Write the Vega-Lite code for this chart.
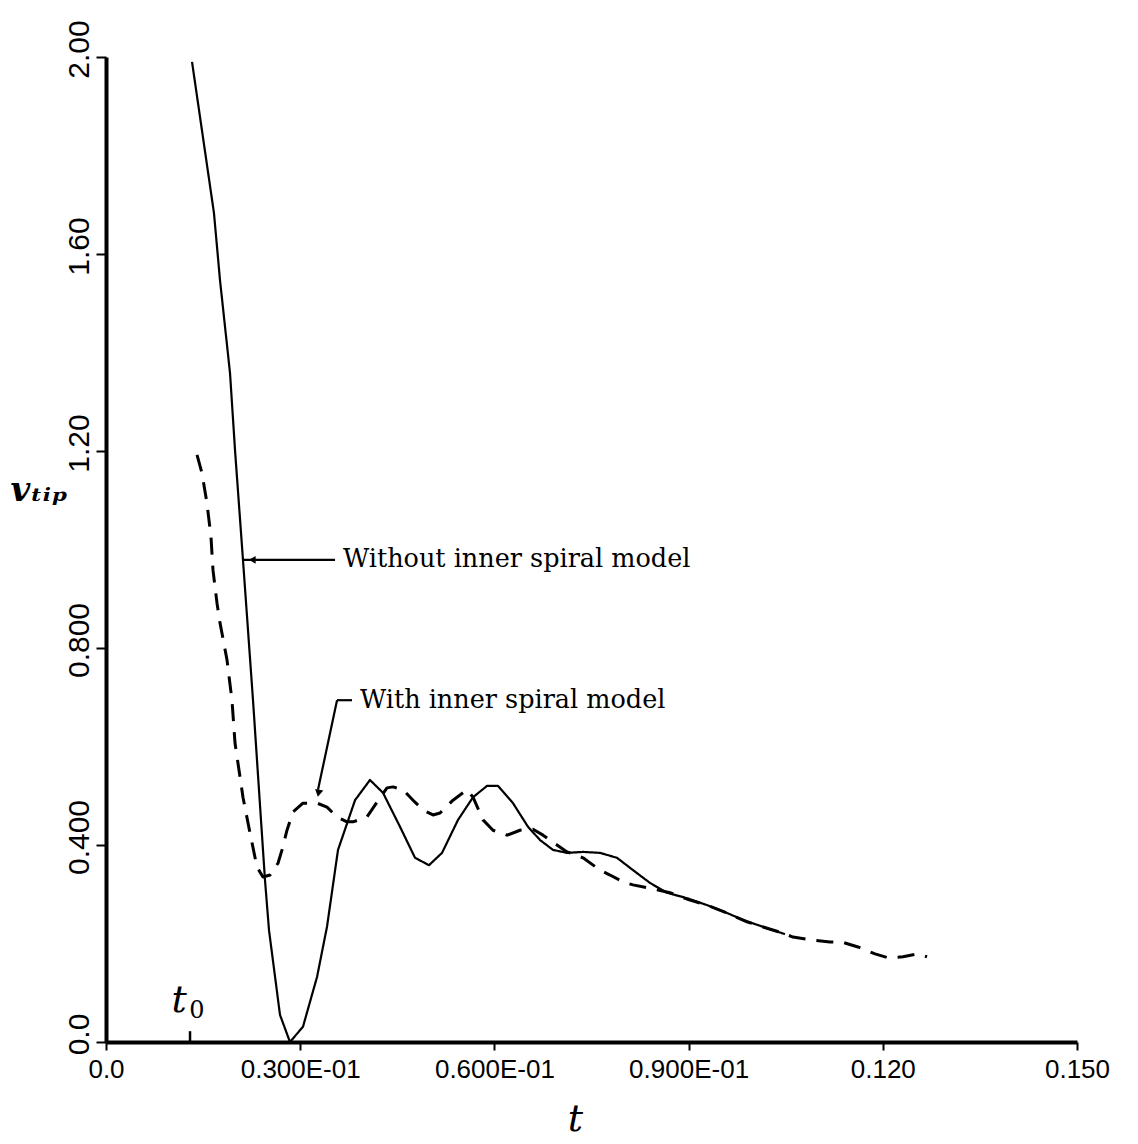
{
  "$schema": "https://vega.github.io/schema/vega-lite/v6.json",
  "width": 971,
  "height": 985,
  "autosize": "none",
  "padding": {"left": 106, "top": 57, "right": 61, "bottom": 102},
  "background": "white",
  "config": {
    "view": {"stroke": null},
    "axis": {"grid": false, "domainColor": "black", "tickColor": "black", "labelColor": "black", "titleColor": "black"}
  },
  "datasets": {
    "curves": [
      {"series": "without", "t": 0.01329, "v": 1.990},
      {"series": "without", "t": 0.01668, "v": 1.683},
      {"series": "without", "t": 0.01761, "v": 1.547},
      {"series": "without", "t": 0.01916, "v": 1.358},
      {"series": "without", "t": 0.01993, "v": 1.202},
      {"series": "without", "t": 0.02116, "v": 0.979},
      {"series": "without", "t": 0.02271, "v": 0.694},
      {"series": "without", "t": 0.02456, "v": 0.329},
      {"series": "without", "t": 0.02518, "v": 0.227},
      {"series": "without", "t": 0.02688, "v": 0.055},
      {"series": "without", "t": 0.02842, "v": 0.0},
      {"series": "without", "t": 0.03043, "v": 0.031},
      {"series": "without", "t": 0.03260, "v": 0.132},
      {"series": "without", "t": 0.03414, "v": 0.234},
      {"series": "without", "t": 0.03584, "v": 0.390},
      {"series": "without", "t": 0.03847, "v": 0.491},
      {"series": "without", "t": 0.04078, "v": 0.532},
      {"series": "without", "t": 0.04279, "v": 0.506},
      {"series": "without", "t": 0.04542, "v": 0.437},
      {"series": "without", "t": 0.04774, "v": 0.374},
      {"series": "without", "t": 0.04990, "v": 0.359},
      {"series": "without", "t": 0.05191, "v": 0.384},
      {"series": "without", "t": 0.05438, "v": 0.451},
      {"series": "without", "t": 0.05670, "v": 0.497},
      {"series": "without", "t": 0.05886, "v": 0.520},
      {"series": "without", "t": 0.06056, "v": 0.520},
      {"series": "without", "t": 0.06287, "v": 0.485},
      {"series": "without", "t": 0.06519, "v": 0.437},
      {"series": "without", "t": 0.06705, "v": 0.410},
      {"series": "without", "t": 0.06906, "v": 0.390},
      {"series": "without", "t": 0.07122, "v": 0.384},
      {"series": "without", "t": 0.07369, "v": 0.386},
      {"series": "without", "t": 0.07632, "v": 0.384},
      {"series": "without", "t": 0.07894, "v": 0.374},
      {"series": "without", "t": 0.08141, "v": 0.349},
      {"series": "without", "t": 0.08404, "v": 0.323},
      {"series": "without", "t": 0.08667, "v": 0.303},
      {"series": "without", "t": 0.08975, "v": 0.292},
      {"series": "without", "t": 0.09284, "v": 0.278},
      {"series": "without", "t": 0.09593, "v": 0.262},
      {"series": "without", "t": 0.09840, "v": 0.248},
      {"series": "without", "t": 0.10211, "v": 0.231},
      {"series": "without", "t": 0.10489, "v": 0.219},
      {"series": "with", "t": 0.01406, "v": 1.192},
      {"series": "with", "t": 0.01483, "v": 1.155},
      {"series": "with", "t": 0.01560, "v": 1.094},
      {"series": "with", "t": 0.01622, "v": 1.025},
      {"series": "with", "t": 0.01653, "v": 0.958},
      {"series": "with", "t": 0.01715, "v": 0.891},
      {"series": "with", "t": 0.01761, "v": 0.851},
      {"series": "with", "t": 0.01869, "v": 0.776},
      {"series": "with", "t": 0.01946, "v": 0.694},
      {"series": "with", "t": 0.01993, "v": 0.607},
      {"series": "with", "t": 0.02039, "v": 0.566},
      {"series": "with", "t": 0.02116, "v": 0.497},
      {"series": "with", "t": 0.02225, "v": 0.424},
      {"series": "with", "t": 0.02333, "v": 0.355},
      {"series": "with", "t": 0.02425, "v": 0.335},
      {"series": "with", "t": 0.02533, "v": 0.339},
      {"series": "with", "t": 0.02657, "v": 0.363},
      {"series": "with", "t": 0.02719, "v": 0.390},
      {"series": "with", "t": 0.02796, "v": 0.430},
      {"series": "with", "t": 0.02889, "v": 0.467},
      {"series": "with", "t": 0.03043, "v": 0.485},
      {"series": "with", "t": 0.03260, "v": 0.485},
      {"series": "with", "t": 0.03414, "v": 0.477},
      {"series": "with", "t": 0.03569, "v": 0.457},
      {"series": "with", "t": 0.03723, "v": 0.447},
      {"series": "with", "t": 0.03816, "v": 0.447},
      {"series": "with", "t": 0.04032, "v": 0.457},
      {"series": "with", "t": 0.04186, "v": 0.487},
      {"series": "with", "t": 0.04341, "v": 0.516},
      {"series": "with", "t": 0.04434, "v": 0.518},
      {"series": "with", "t": 0.04588, "v": 0.512},
      {"series": "with", "t": 0.04743, "v": 0.491},
      {"series": "with", "t": 0.04897, "v": 0.471},
      {"series": "with", "t": 0.05052, "v": 0.461},
      {"series": "with", "t": 0.05160, "v": 0.465},
      {"series": "with", "t": 0.05361, "v": 0.491},
      {"series": "with", "t": 0.05577, "v": 0.512},
      {"series": "with", "t": 0.05670, "v": 0.497},
      {"series": "with", "t": 0.05824, "v": 0.451},
      {"series": "with", "t": 0.05978, "v": 0.430},
      {"series": "with", "t": 0.06195, "v": 0.420},
      {"series": "with", "t": 0.06396, "v": 0.430},
      {"series": "with", "t": 0.06596, "v": 0.432},
      {"series": "with", "t": 0.06751, "v": 0.420},
      {"series": "with", "t": 0.06967, "v": 0.400},
      {"series": "with", "t": 0.07122, "v": 0.386},
      {"series": "with", "t": 0.07369, "v": 0.374},
      {"series": "with", "t": 0.07632, "v": 0.349},
      {"series": "with", "t": 0.07786, "v": 0.339},
      {"series": "with", "t": 0.07987, "v": 0.325},
      {"series": "with", "t": 0.08141, "v": 0.319},
      {"series": "with", "t": 0.08512, "v": 0.309},
      {"series": "with", "t": 0.08713, "v": 0.303},
      {"series": "with", "t": 0.09022, "v": 0.288},
      {"series": "with", "t": 0.09284, "v": 0.278},
      {"series": "with", "t": 0.09593, "v": 0.262},
      {"series": "with", "t": 0.09902, "v": 0.244},
      {"series": "with", "t": 0.10211, "v": 0.231},
      {"series": "with", "t": 0.10458, "v": 0.221},
      {"series": "with", "t": 0.10613, "v": 0.213},
      {"series": "with", "t": 0.10906, "v": 0.207},
      {"series": "with", "t": 0.11184, "v": 0.203},
      {"series": "with", "t": 0.11370, "v": 0.203},
      {"series": "with", "t": 0.11617, "v": 0.193},
      {"series": "with", "t": 0.11880, "v": 0.179},
      {"series": "with", "t": 0.12080, "v": 0.171},
      {"series": "with", "t": 0.12312, "v": 0.173},
      {"series": "with", "t": 0.12544, "v": 0.179},
      {"series": "with", "t": 0.12683, "v": 0.173}
    ],
    "leaders": [
      {"t": 0.02116, "v": 0.979, "t2": 0.03538, "v2": 0.979},
      {"t": 0.03569, "v": 0.694, "t2": 0.03800, "v2": 0.694},
      {"t": 0.03569, "v": 0.694, "t2": 0.03275, "v2": 0.512}
    ],
    "notes": [
      {"label": "Without inner spiral model", "t": 0.03661, "v": 0.981},
      {"label": "With inner spiral model", "t": 0.03924, "v": 0.694}
    ]
  },
  "layer": [
    {
      "data": {"name": "curves"},
      "mark": {"type": "line", "color": "black", "interpolate": "linear", "clip": true, "strokeJoin": "round"},
      "encoding": {
        "x": {
          "field": "t", "type": "quantitative",
          "scale": {"domain": [0, 0.15], "nice": false, "zero": false},
          "axis": {
            "values": [0, 0.03, 0.06, 0.09, 0.12, 0.15],
            "labelExpr": "datum.value < 0.01 ? '0.0' : datum.value < 0.045 ? '0.300E-01' : datum.value < 0.075 ? '0.600E-01' : datum.value < 0.105 ? '0.900E-01' : datum.value < 0.135 ? '0.120' : '0.150'",
            "domainWidth": 4, "tickWidth": 2, "tickSize": 8,
            "labelFont": "Liberation Sans", "labelFontSize": 26, "labelPadding": 6,
            "labelOverlap": false, "labelFlush": false,
            "title": "t", "titleFont": "DejaVu Serif", "titleFontStyle": "italic", "titleFontWeight": "normal",
            "titleFontSize": 38, "titleX": 469, "titleY": 88, "titleAlign": "center", "titleBaseline": "alphabetic"
          }
        },
        "y": {
          "field": "v", "type": "quantitative",
          "scale": {"domain": [0, 2], "nice": false},
          "axis": {
            "values": [0, 0.4, 0.8, 1.2, 1.6, 2.0],
            "labelExpr": "datum.value < 0.2 ? '0.0' : datum.value < 0.6 ? '0.400' : datum.value < 1.0 ? '0.800' : datum.value < 1.4 ? '1.20' : datum.value < 1.8 ? '1.60' : '2.00'",
            "domainWidth": 4, "tickWidth": 2, "tickSize": 10,
            "labelFont": "Liberation Sans", "labelFontSize": 30, "labelPadding": 2,
            "labelAngle": 270, "labelAlign": "center", "labelBaseline": "bottom",
            "labelOffset": -8,
            "labelOverlap": false, "labelFlush": false,
            "title": "vₜᵢₚ", "titleAngle": 0, "titleX": -96, "titleY": 433,
            "titleAlign": "left", "titleBaseline": "middle",
            "titleFont": "DejaVu Serif", "titleFontStyle": "italic", "titleFontWeight": "bold", "titleFontSize": 34
          }
        },
        "detail": {"field": "series"},
        "strokeDash": {
          "field": "series", "type": "nominal",
          "scale": {"domain": ["without", "with"], "range": [[1, 0], [17, 11]]},
          "legend": null
        },
        "strokeWidth": {
          "field": "series", "type": "nominal",
          "scale": {"domain": ["without", "with"], "range": [2.2, 3]},
          "legend": null
        }
      }
    },
    {
      "data": {"name": "leaders"},
      "mark": {"type": "rule", "color": "black", "strokeWidth": 2.2},
      "encoding": {
        "x": {"field": "t", "type": "quantitative"},
        "y": {"field": "v", "type": "quantitative"},
        "x2": {"field": "t2"},
        "y2": {"field": "v2"}
      }
    },
    {
      "data": {"values": [{"t": 0.0226, "v": 0.979}]},
      "mark": {"type": "point", "shape": "triangle-left", "filled": true, "color": "black", "size": 60, "opacity": 1},
      "encoding": {
        "x": {"field": "t", "type": "quantitative"},
        "y": {"field": "v", "type": "quantitative"}
      }
    },
    {
      "data": {"values": [{"t": 0.03283, "v": 0.505}]},
      "mark": {"type": "point", "shape": "triangle-down", "filled": true, "color": "black", "size": 70, "angle": 11, "opacity": 1},
      "encoding": {
        "x": {"field": "t", "type": "quantitative"},
        "y": {"field": "v", "type": "quantitative"}
      }
    },
    {
      "data": {"name": "notes"},
      "mark": {"type": "text", "align": "left", "baseline": "middle", "font": "DejaVu Serif", "fontSize": 25.5, "color": "black"},
      "encoding": {
        "x": {"field": "t", "type": "quantitative"},
        "y": {"field": "v", "type": "quantitative"},
        "text": {"field": "label"}
      }
    },
    {
      "data": {"values": [{"t": 0.01298, "v": 0, "t2": 0.01298, "v2": 0.022}]},
      "mark": {"type": "rule", "color": "black", "strokeWidth": 2.5},
      "encoding": {
        "x": {"field": "t", "type": "quantitative"},
        "y": {"field": "v", "type": "quantitative"},
        "x2": {"field": "t2"},
        "y2": {"field": "v2"}
      }
    },
    {
      "data": {"values": [{"label": "t", "t": 0.01128, "v": 0.083}]},
      "mark": {"type": "text", "align": "center", "baseline": "middle", "font": "DejaVu Serif", "fontStyle": "italic", "fontSize": 38, "color": "black"},
      "encoding": {
        "x": {"field": "t", "type": "quantitative"},
        "y": {"field": "v", "type": "quantitative"},
        "text": {"field": "label"}
      }
    },
    {
      "data": {"values": [{"label": "0", "t": 0.01406, "v": 0.062}]},
      "mark": {"type": "text", "align": "center", "baseline": "middle", "font": "DejaVu Serif", "fontSize": 24, "color": "black"},
      "encoding": {
        "x": {"field": "t", "type": "quantitative"},
        "y": {"field": "v", "type": "quantitative"},
        "text": {"field": "label"}
      }
    }
  ]
}
